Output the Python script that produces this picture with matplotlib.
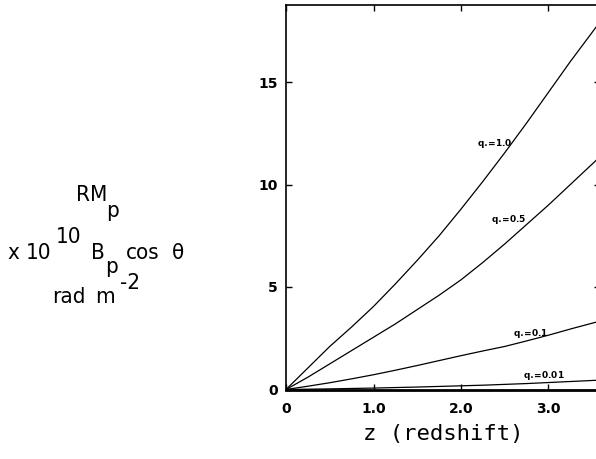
import matplotlib
matplotlib.use('Agg')
import matplotlib.pyplot as plt
import numpy as np

# redshift samples and rotation measure
z = [0.0, 0.25, 0.5, 0.75, 1.0, 1.25, 1.5, 1.75, 2.0, 2.25, 2.5, 2.75, 3.0, 3.25, 3.6]
rm_q10 = [0.0, 1.05, 2.1, 3.05, 4.05, 5.15, 6.3, 7.5, 8.8, 10.15, 11.55, 13.0, 14.5, 16.0, 18.0]
rm_q05 = [0.0, 0.6, 1.25, 1.9, 2.55, 3.2, 3.9, 4.6, 5.35, 6.2, 7.1, 8.05, 9.0, 10.0, 11.4]
rm_q01 = [0.0, 0.16, 0.33, 0.52, 0.72, 0.94, 1.17, 1.41, 1.65, 1.88, 2.1, 2.37, 2.65, 2.95, 3.35]
rm_q001 = [0.0, 0.015, 0.03, 0.05, 0.07, 0.095, 0.12, 0.15, 0.18, 0.21, 0.25, 0.29, 0.34, 0.39, 0.46]

labels = ['q$_{\\bullet}$=1.0', 'q$_{\\bullet}$=0.5', 'q$_{\\bullet}$=0.1', 'q$_{\\bullet}$=0.01']
label_pos = [(2.59, 12.0), (2.75, 8.3), (3.0, 2.75), (3.19, 0.7)]

xticks = [0, 1, 2, 3]
xticklabels = ['0', '1.0', '2.0', '3.0']
yticks = [0, 5, 10, 15]

fig = plt.figure(figsize=(5.96, 4.59), dpi=100)
ax = fig.add_axes([286/596, 69.5/459, 314/596, 384.8/459])

for rm in [rm_q10, rm_q05, rm_q01, rm_q001]:
    ax.plot(z, rm, color='black', lw=0.9)

for lab, (x, y) in zip(labels, label_pos):
    ax.text(x, y, lab, ha='right', va='center', fontsize=6.5, fontweight='bold')

ax.set_xlim(0, 314/87.5)
ax.set_ylim(0, 384.8/20.5)
ax.set_xticks(xticks)
ax.set_xticklabels(xticklabels)
ax.set_yticks(yticks)
ax.tick_params(direction='in', top=True, right=True, length=4, width=1,
               labelsize=10)
ax.tick_params(axis='x', pad=9)
ax.tick_params(axis='y', pad=6)
for t in ax.get_xticklabels() + ax.get_yticklabels():
    t.set_fontweight('bold')
for s in ax.spines.values():
    s.set_linewidth(1.2)
ax.spines['bottom'].set_linewidth(2)

ax.set_xlabel('z (redshift)', family='DejaVu Sans Mono', fontsize=16, labelpad=6)

# left label built from pieces, placed word by word
lf = dict(family='DejaVu Sans', stretch='condensed', fontsize=16, va='center')
def px(x, y):
    return x / 596, 1 - y / 459

fig.text(*px(92, 195), 'RM', ha='center', **lf)
fig.text(*px(112, 211), 'p', ha='center', **lf)
fig.text(*px(7, 253), 'x', ha='left', **lf)
fig.text(*px(26, 253), '10', ha='left', **lf)
fig.text(*px(56, 237), '10', ha='left', **lf)
fig.text(*px(91, 253), 'B', ha='left', **lf)
fig.text(*px(105, 267), 'p', ha='left', **lf)
fig.text(*px(126, 253), 'cos', ha='left', **lf)
fig.text(*px(172, 253), '\u03b8', ha='left', **lf)
fig.text(*px(52, 297), 'rad', ha='left', **lf)
fig.text(*px(95, 297), 'm', ha='left', **lf)
fig.text(*px(120, 283), '-2', ha='left', **lf)

fig.savefig('out.png', dpi=100)
